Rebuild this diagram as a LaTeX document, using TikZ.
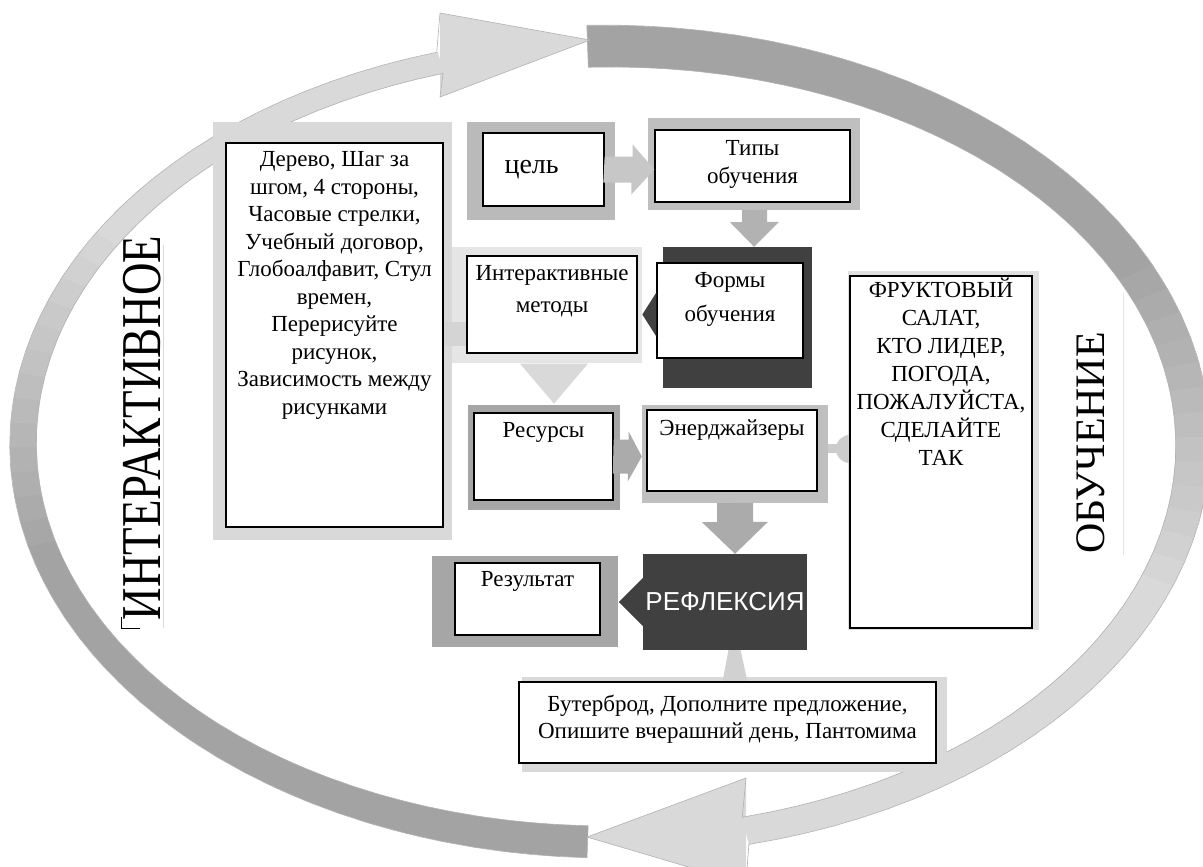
\documentclass[tikz,border=0pt]{standalone}
\usepackage{fontspec}
\setmainfont{Liberation Serif}
\newfontfamily\reflfont{Liberation Sans}
\usetikzlibrary{positioning,calc}
\begin{document}
\begin{tikzpicture}[x=1pt,y=-1pt,
        declare function={hwa(\t)=21-7*(\t+92)/168; hwb(\t)=16-5*(\t-92)/161.3;
            ox(\t,\w)=608+(585+\w)*cos(\t); oy(\t,\w)=444+(398+\w)*sin(\t);},
        box/.style={draw=black,line width=1.3pt,fill=white,inner sep=0},
        panel/.style={inner sep=0,fill=#1},
        sz/.style 2 args={minimum width=#1,minimum height=#2},
        txt/.style={inner sep=0,align=center,font=\fontsize{23}{27.5}\selectfont},
        arcedge/.style={draw=black!30,line width=.6pt}]
    \useasboundingbox (0,0) rectangle (1203,867);
    \fill[white] (0,0) rectangle (1203,867);
    \foreach \i in {0,...,47}{
        \pgfmathsetmacro\ta{-92+3.5*\i}
        \pgfmathsetmacro\tb{\ta+3.9}
        \pgfmathsetmacro\cc{36-21*min(1,max(0,(\i-18)/14))}
        \fill[black!\cc] ({ox(\ta,hwa(\ta))},{oy(\ta,hwa(\ta))}) -- ({ox(\tb,hwa(\tb))},{oy(\tb,hwa(\tb))}) -- ({ox(\tb,0-hwa(\tb))},{oy(\tb,0-hwa(\tb))}) -- ({ox(\ta,0-hwa(\ta))},{oy(\ta,0-hwa(\ta))}) -- cycle;
    }
    \foreach \i in {0,...,45}{
        \pgfmathsetmacro\ta{92+3.5*\i}
        \pgfmathsetmacro\tb{\ta+3.9}
        \pgfmathsetmacro\cc{36-21*min(1,max(0,(\i-20)/14))}
        \fill[black!\cc] ({ox(\ta,hwb(\ta))},{oy(\ta,hwb(\ta))}) -- ({ox(\tb,hwb(\tb))},{oy(\tb,hwb(\tb))}) -- ({ox(\tb,0-hwb(\tb))},{oy(\tb,0-hwb(\tb))}) -- ({ox(\ta,0-hwb(\ta))},{oy(\ta,0-hwb(\ta))}) -- cycle;
    }
    \fill[black!15] (746,884) -- (587,837) -- (746,778) -- cycle;
    \fill[black!15] (440,13) -- (590,40) -- (440,97) -- cycle;
    \draw[arcedge] plot[domain=-92:76.4,samples=60] ({ox(\x,hwa(\x))},{oy(\x,hwa(\x))}) -- (746,884) -- (587,837) -- (746,778) -- plot[domain=76.4:-92,samples=60] ({ox(\x,0-hwa(\x))},{oy(\x,0-hwa(\x))}) -- cycle;
    \draw[arcedge] plot[domain=92:253.3,samples=60] ({ox(\x,hwb(\x))},{oy(\x,hwb(\x))}) -- (440,13) -- (590,40) -- (440,97) -- plot[domain=253.3:92,samples=60] ({ox(\x,0-hwb(\x))},{oy(\x,0-hwb(\x))}) -- cycle;
    \node[rotate=90,inner sep=0,font=\fontsize{45}{50}\selectfont] (interL) at (142,428) {\scalebox{1}[1.25]{ИНТЕРАКТИВНОЕ}};
    \node[rotate=90,inner sep=0,font=\fontsize{42}{50}\selectfont] (obuchL) at (1091,443) {ОБУЧЕНИЕ};
    \draw[black!15,line width=1pt] (163,245) -- (163,628);
    \draw[line width=.8pt] (121,617) -- (121,628) -- (140,628);
    \draw[black!10,line width=1pt] (1123,293) -- (1123,555);
    \node[panel=black!15,sz={239pt}{418pt}] (derevoP) at (332.5,331) {};
    \node[panel=black!27,sz={148pt}{98pt}] (celP) at (541,171) {};
    \node[panel=black!25,sz={212pt}{92pt}] (tipyP) at (754,164) {};
    \node[panel=black!10,sz={190pt}{116pt}] (metodyP) at (547,305) {};
    \node[panel=black!75,sz={149pt}{141pt}] (formyP) at (737.5,317.5) {};
    \node[panel=black!35,sz={152pt}{105pt}] (resursyP) at (544,457.5) {};
    \node[panel=black!25,sz={186pt}{98pt}] (energP) at (735,454) {};
    \node[panel=black!35,sz={186pt}{91pt}] (rezultP) at (525,601.5) {};
    \node[panel=black!15,sz={425pt}{95pt}] (buterP) at (734.5,724.5) {};
    \node[panel=black!12,sz={191pt}{359pt}] (fruktP) at (943.5,450.5) {};
    \fill[black!20] ($(fruktP.west)+(2,-1.5)$) circle[radius=14];
    \fill[black!20] ($(energP.east)+(0,-10)$) rectangle ($(fruktP.west)+(2,2)$);
    \fill[black!18] ($(buterP.north)+(-12,5)$) -- ++(6,-32) -- ++(12,0) -- ++(7,32) -- cycle;
    \node[box,sz={217pt}{384pt}] (derevo) at (334.5,335) {};
    \node[box,sz={121pt}{73pt}] (cel) at (543.5,169.5) {};
    \node[box,sz={195pt}{72pt}] (tipy) at (752.5,166) {};
    \node[box,sz={170pt}{97pt}] (metody) at (552,304.5) {};
    \node[box,sz={146pt}{95pt}] (formy) at (730,310.5) {};
    \node[box,sz={139pt}{87pt}] (resursy) at (543.5,456.5) {};
    \node[box,sz={170pt}{81pt}] (energ) at (732,450.5) {};
    \node[panel=black!75,sz={164pt}{96pt},text=white,font=\reflfont\fontsize{26}{30}\selectfont] (refl) at (725,602) {РЕФЛЕКСИЯ};
    \node[box,sz={145pt}{72pt}] (rezult) at (527.5,599) {};
    \node[box,sz={417pt}{81pt}] (buter) at (727.5,722.5) {};
    \node[box,sz={182pt}{352pt}] (frukt) at (941,452) {};
    \fill[black!22] (cel.east) ++(0,-13) -- ++(28,0) -- ++(0,-12) -- (tipy.west |- cel.east) -- ++(-23,25) -- ++(0,-12) -- ++(-28,0) -- cycle;
    \fill[black!30] (tipyP.south) ++(-12,0) -- ++(0,12) -- ++(-12,0) -- (tipyP.south |- formyP.north) -- ++(25,-25) -- ++(-12,0) -- ++(0,-12) -- cycle;
    \fill[black!75] (formy.west) ++(0,-18) -- ++(-14,22) -- ++(14,22) -- cycle;
    \fill[black!17] ($(derevo.east)+(0,-13)$) rectangle ($(metody.west |- derevo.east)+(0,11)$);
    \fill[black!15] (metody.south) ++(-32,10) -- ++(68,0) -- ++(-34,40) -- cycle;
    \fill[black!33] (resursy.east) ++(0,-17) -- ++(15,0) -- ++(0,-8) -- (resursy.east -| energP.west) -- ++(-14,25) -- ++(0,-8) -- ++(-15,0) -- cycle;
    \fill[black!33] (energP.south) ++(-18,0) -- ++(0,19) -- ++(-15,0) -- (energP.south |- refl.north) -- ++(33,-32) -- ++(-15,0) -- ++(0,-19) -- cycle;
    \fill[black!75] (refl.west) ++(0,-24) -- ++(-24,24) -- ++(24,24) -- cycle;
    \node[txt,below=9pt of derevo.north] (derevoT) {Дерево, Шаг за\\шгом, 4 стороны,\\Часовые стрелки,\\Учебный договор,\\Глобоалфавит, Стул\\времен,\\Перерисуйте\\рисунок,\\Зависимость между\\рисунками};
    \node[anchor=base west,inner sep=0,font=\fontsize{28}{32}\selectfont] (celT) at ($(cel.west)+(22,3.5)$) {цель};
    \node[txt,below=11pt of tipy.north,font=\fontsize{23}{28}\selectfont] (tipyT) {Типы\\обучения};
    \node[txt,below=10pt of metody.north,font=\fontsize{23}{32}\selectfont] (metodyT) {Интерактивные\\методы};
    \node[txt,below=10pt of formy.north,font=\fontsize{23}{34}\selectfont] (formyT) {Формы\\обучения};
    \node[txt,below=10pt of resursy.north] (resursyT) {Ресурсы};
    \node[txt,below=10pt of energ.north] (energT) {Энерджайзеры};
    \node[txt,below=9pt of rezult.north] (rezultT) {Результат};
    \node[txt,below=13pt of buter.north,font=\fontsize{23}{27}\selectfont] (buterT) {Бутерброд, Дополните предложение,\\Опишите вчерашний день, Пантомима};
    \node[txt,below=2pt of frukt.north,font=\fontsize{23}{28}\selectfont] (fruktT) {ФРУКТОВЫЙ\\САЛАТ,\\КТО ЛИДЕР,\\ПОГОДА,\\ПОЖАЛУЙСТА,\\СДЕЛАЙТЕ\\ТАК};
\end{tikzpicture}
\end{document}
